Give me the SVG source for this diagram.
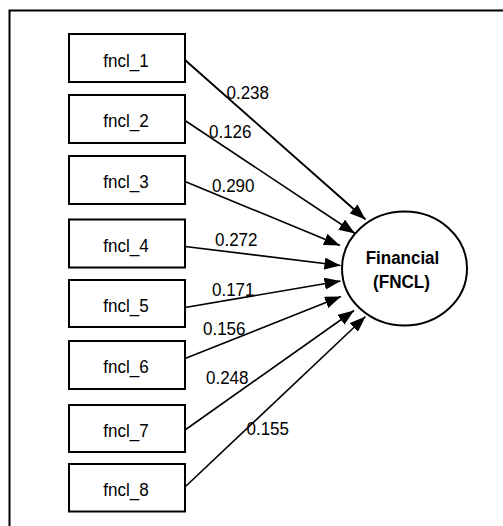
<svg xmlns="http://www.w3.org/2000/svg" width="503" height="526" viewBox="0 0 503 526">
  <style>
    .frame { fill: none; stroke: #000; stroke-width: 2; }
    .box { fill: #fff; stroke: #000; stroke-width: 2; }
    .lbl { font-family: "Liberation Sans", Arial, sans-serif; font-size: 18px; fill: #000; }
    .box-text { text-anchor: middle; }
    .latent { fill: #fff; stroke: #000; stroke-width: 2; }
    .latent-text { font-family: "Liberation Sans", Arial, sans-serif; font-size: 18px; font-weight: bold; text-anchor: middle; fill: #000; }
    .path { fill: none; stroke: #000; stroke-width: 1.6; marker-end: url(#arrow); }
  </style>
  <defs>
    <marker id="arrow" viewBox="0 0 16 12" refX="16" refY="6" markerWidth="16" markerHeight="12" markerUnits="userSpaceOnUse" orient="auto">
      <path d="M0,0 L16,6 L0,12 z" fill="#000"/>
    </marker>
  </defs>

  <rect width="503" height="526" fill="#fff"/>
  <!-- outer frame (open to the right and bottom) -->
  <path class="frame" d="M9.5,530 V10.5 H510"/>

  <g id="connectors">
    <line class="path" x1="185" y1="60" x2="365.5" y2="219.5" style="stroke-width:2"/>
    <line class="path" x1="185" y1="120.5" x2="355" y2="233.5"/>
    <line class="path" x1="185" y1="181.5" x2="340" y2="245.5"/>
    <line class="path" x1="185" y1="246.5" x2="340.5" y2="265.5"/>
    <line class="path" x1="185" y1="307.5" x2="340.5" y2="281"/>
    <line class="path" x1="185" y1="358.5" x2="341" y2="296.5"/>
    <line class="path" x1="185" y1="430" x2="354" y2="310.5"/>
    <line class="path" x1="185" y1="487" x2="365.5" y2="316.5"/>
  </g>

  <g id="loadings">
    <text class="lbl" x="226.5" y="98.5" textLength="42.5" lengthAdjust="spacingAndGlyphs">0.238</text>
    <text class="lbl" x="209" y="137.5" textLength="42.5" lengthAdjust="spacingAndGlyphs">0.126</text>
    <text class="lbl" x="212" y="192" textLength="42.5" lengthAdjust="spacingAndGlyphs">0.290</text>
    <text class="lbl" x="215" y="246" textLength="42.5" lengthAdjust="spacingAndGlyphs">0.272</text>
    <text class="lbl" x="212" y="296" textLength="42.5" lengthAdjust="spacingAndGlyphs">0.171</text>
    <text class="lbl" x="203" y="334.5" textLength="42.5" lengthAdjust="spacingAndGlyphs">0.156</text>
    <text class="lbl" x="206" y="383.5" textLength="42.5" lengthAdjust="spacingAndGlyphs">0.248</text>
    <text class="lbl" x="246.5" y="435" textLength="42.5" lengthAdjust="spacingAndGlyphs">0.155</text>
  </g>

  <g id="fncl_1"><rect class="box" x="69" y="34" width="116" height="48"/><text class="lbl box-text" x="126" y="66.5" textLength="45.5" lengthAdjust="spacingAndGlyphs">fncl_1</text></g>
  <g id="fncl_2"><rect class="box" x="69" y="95" width="116" height="48"/><text class="lbl box-text" x="126" y="127" textLength="45.5" lengthAdjust="spacingAndGlyphs">fncl_2</text></g>
  <g id="fncl_3"><rect class="box" x="69" y="156" width="116" height="48"/><text class="lbl box-text" x="126" y="188" textLength="45.5" lengthAdjust="spacingAndGlyphs">fncl_3</text></g>
  <g id="fncl_4"><rect class="box" x="69" y="219.5" width="116" height="48"/><text class="lbl box-text" x="126" y="251.5" textLength="45.5" lengthAdjust="spacingAndGlyphs">fncl_4</text></g>
  <g id="fncl_5"><rect class="box" x="69" y="280" width="116" height="47"/><text class="lbl box-text" x="126" y="312" textLength="45.5" lengthAdjust="spacingAndGlyphs">fncl_5</text></g>
  <g id="fncl_6"><rect class="box" x="69" y="341" width="116" height="48"/><text class="lbl box-text" x="126" y="373" textLength="45.5" lengthAdjust="spacingAndGlyphs">fncl_6</text></g>
  <g id="fncl_7"><rect class="box" x="69" y="405" width="116" height="47"/><text class="lbl box-text" x="126" y="436.5" textLength="45.5" lengthAdjust="spacingAndGlyphs">fncl_7</text></g>
  <g id="fncl_8"><rect class="box" x="69" y="464" width="116" height="47.5"/><text class="lbl box-text" x="126" y="496" textLength="45.5" lengthAdjust="spacingAndGlyphs">fncl_8</text></g>

  <g id="FNCL">
    <ellipse class="latent" cx="404.5" cy="268.5" rx="62.5" ry="57"/>
    <text class="latent-text" x="402.5" y="264" textLength="73.5" lengthAdjust="spacingAndGlyphs">Financial</text>
    <text class="latent-text" x="401.5" y="288" textLength="57" lengthAdjust="spacingAndGlyphs">(FNCL)</text>
  </g>
</svg>
